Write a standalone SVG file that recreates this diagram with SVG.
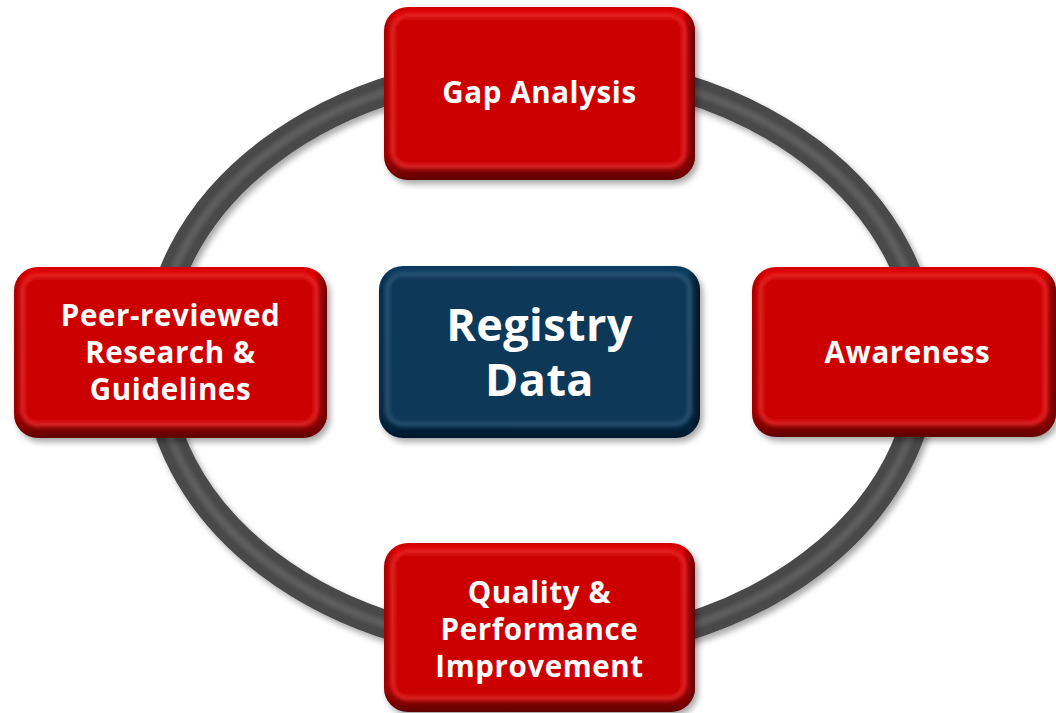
<svg xmlns="http://www.w3.org/2000/svg" width="1056" height="713" viewBox="0 0 1056 713">
<defs>
<style>
.t{font-family:"Open Sans","Noto Sans","Liberation Sans",sans-serif;font-weight:bold;fill:#ffffff;text-anchor:middle}
.s{font-size:29.5px;letter-spacing:0.6px}
.b{font-size:45px;letter-spacing:0.4px}
</style>
<linearGradient id="redEdge" x1="0" y1="0" x2="0" y2="1">
<stop offset="0" stop-color="#d80000"/>
<stop offset="0.85" stop-color="#b80000"/>
<stop offset="1" stop-color="#5e0000"/>
</linearGradient>
<linearGradient id="redSide" x1="0" y1="0" x2="1" y2="0">
<stop offset="0" stop-color="#5e0000" stop-opacity="0.35"/>
<stop offset="0.04" stop-color="#5e0000" stop-opacity="0"/>
<stop offset="0.96" stop-color="#5e0000" stop-opacity="0"/>
<stop offset="1" stop-color="#5e0000" stop-opacity="0.9"/>
</linearGradient>
<linearGradient id="blueEdge" x1="0" y1="0" x2="0" y2="1">
<stop offset="0" stop-color="#0b3b5e"/>
<stop offset="0.85" stop-color="#083252"/>
<stop offset="1" stop-color="#03182a"/>
</linearGradient>
<linearGradient id="blueSide" x1="0" y1="0" x2="1" y2="0">
<stop offset="0" stop-color="#021220" stop-opacity="0.35"/>
<stop offset="0.04" stop-color="#021220" stop-opacity="0"/>
<stop offset="0.96" stop-color="#021220" stop-opacity="0"/>
<stop offset="1" stop-color="#021220" stop-opacity="0.9"/>
</linearGradient>
<filter id="soft" x="-5%" y="-5%" width="110%" height="110%">
<feGaussianBlur stdDeviation="2"/>
</filter>
<filter id="shadow" x="-10%" y="-10%" width="120%" height="120%">
<feGaussianBlur in="SourceAlpha" stdDeviation="3"/>
<feOffset dx="3" dy="4" result="o"/>
<feComponentTransfer><feFuncA type="linear" slope="0.35"/></feComponentTransfer>
<feMerge><feMergeNode/><feMergeNode in="SourceGraphic"/></feMerge>
</filter>
</defs>
<rect width="1056" height="713" fill="#ffffff"/>

<g id="connectors">
<g filter="url(#shadow)">
<ellipse cx="540" cy="358" rx="384" ry="291" fill="none" stroke="#484848" stroke-width="28"/>
<ellipse cx="540" cy="358" rx="384" ry="291" fill="none" stroke="#5e5e5e" stroke-width="8" filter="url(#soft)"/>
</g>
</g>

<g id="node-gap">
<rect x="384" y="7" width="311" height="173" rx="24" fill="url(#redEdge)" filter="url(#shadow)"/>
<rect x="384" y="7" width="311" height="173" rx="24" fill="url(#redSide)"/>
<rect x="392" y="15" width="293" height="152" rx="16" fill="#cc0000" stroke="#ff3a3a" stroke-width="2" filter="url(#soft)"/>
<text class="t s" x="539.5" y="103">Gap Analysis</text>
</g>

<g id="node-registry">
<rect x="379" y="266" width="321" height="172" rx="24" fill="url(#blueEdge)" filter="url(#shadow)"/>
<rect x="379" y="266" width="321" height="172" rx="24" fill="url(#blueSide)"/>
<rect x="387" y="274" width="303" height="151" rx="16" fill="#093858" stroke="#3c6a8c" stroke-width="2" filter="url(#soft)"/>
<text class="t b" x="539.5" y="341">Registry</text>
<text class="t b" x="539.5" y="396">Data</text>
</g>

<g id="node-research">
<rect x="14" y="267" width="313" height="171" rx="24" fill="url(#redEdge)" filter="url(#shadow)"/>
<rect x="14" y="267" width="313" height="171" rx="24" fill="url(#redSide)"/>
<rect x="22" y="275" width="295" height="150" rx="16" fill="#cc0000" stroke="#ff3a3a" stroke-width="2" filter="url(#soft)"/>
<text class="t s" x="170.5" y="326">Peer-reviewed</text>
<text class="t s" x="170.5" y="363">Research &amp;</text>
<text class="t s" x="170.5" y="400">Guidelines</text>
</g>

<g id="node-awareness">
<rect x="752" y="267" width="304" height="170" rx="24" fill="url(#redEdge)" filter="url(#shadow)"/>
<rect x="752" y="267" width="304" height="170" rx="24" fill="url(#redSide)"/>
<rect x="760" y="275" width="286" height="149" rx="16" fill="#cc0000" stroke="#ff3a3a" stroke-width="2" filter="url(#soft)"/>
<text class="t s" x="907.5" y="363">Awareness</text>
</g>

<g id="node-quality">
<rect x="384" y="543" width="311" height="169" rx="24" fill="url(#redEdge)" filter="url(#shadow)"/>
<rect x="384" y="543" width="311" height="169" rx="24" fill="url(#redSide)"/>
<rect x="392" y="551" width="293" height="148" rx="16" fill="#cc0000" stroke="#ff3a3a" stroke-width="2" filter="url(#soft)"/>
<text class="t s" x="539.5" y="603">Quality &amp;</text>
<text class="t s" x="539.5" y="640">Performance</text>
<text class="t s" x="539.5" y="677">Improvement</text>
</g>
</svg>
